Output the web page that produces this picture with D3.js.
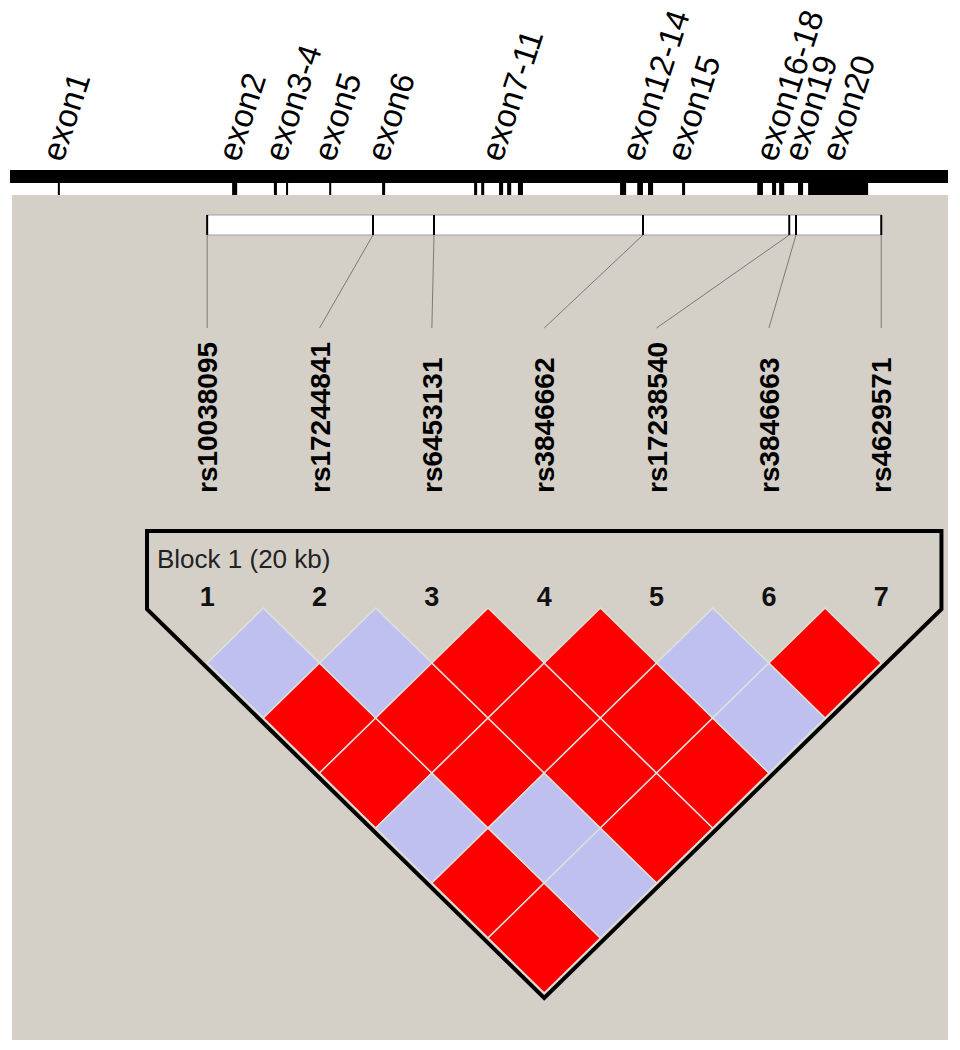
<!DOCTYPE html>
<html>
<head>
<meta charset="utf-8">
<script src="https://cdn.jsdelivr.net/npm/d3@7"></script>
<style>
    body { margin: 0; background: #fff; }
    svg { display: block; font-family: "Liberation Sans", Arial, sans-serif; }
</style>
</head>
<body>
<svg id="plot" width="960" height="1050"></svg>
<script>
const svg = d3.select("#plot");
const width = 960;
const height = 1050;

// gene length in kb, exon groups and their exon spans (kb from gene start)
const geneLength = 27.83;
const exonNames = ["exon1", "exon2", "exon3-4", "exon5", "exon6", "exon7-11",
    "exon12-14", "exon15", "exon16-18", "exon19", "exon20"];
const exonSpans = [
    [[1.42, 1.48]],
    [[6.59, 6.74]],
    [[7.83, 7.92], [8.19, 8.25]],
    [[9.47, 9.53]],
    [[11.04, 11.13]],
    [[13.77, 13.86], [13.98, 14.07], [14.51, 14.63], [14.75, 14.87], [15.07, 15.22]],
    [[18.10, 18.28], [18.61, 18.78], [18.93, 19.08]],
    [[19.94, 20.03]],
    [[22.17, 22.34], [22.61, 22.73], [22.82, 22.97]],
    [[23.38, 23.53]],
    [[23.68, 25.46]],
];

// SNPs and their positions (kb)
const snpNames = ["rs10038095", "rs17244841", "rs6453131", "rs3846662",
    "rs17238540", "rs3846663", "rs4629571"];
const snpPos = [5.85, 10.77, 12.58, 18.78, 23.12, 23.32, 25.85];

// LD classes, row i holds pairs (i, i+1), (i, i+2), ...
// "hi" = strong LD (red), "lo" = D' 1 with low LOD (lavender)
const ldRows = [
    ["lo", "hi", "hi", "lo", "hi", "hi"],
    ["lo", "hi", "hi", "lo", "lo"],
    ["hi", "hi", "hi", "hi"],
    ["hi", "hi", "hi"],
    ["lo", "lo"],
    ["hi"],
];
const blockLabel = "Block 1 (20 kb)";

const font = "'Liberation Sans', Arial, sans-serif";

// ---- SCALES ---- //

const xGene = d3.scaleLinear()
    .domain([0, geneLength])
    .range([10, 948]);

const xSnp = d3.scalePoint()
    .domain(snpNames)
    .range([xGene(snpPos[0]), xGene(snpPos[snpPos.length - 1])]);

const step = xSnp.step();
const halfW = step / 2;
const halfH = 55;
const ldY = d3.scaleLinear()
    .domain([0, snpNames.length])
    .range([608, 608 + snpNames.length * halfH]);

const color = d3.scaleOrdinal()
    .domain(["hi", "lo"])
    .range(["#ff0000", "#c0c0f0"]);

// ---- BACKGROUND ---- //

svg.append("rect")
    .attr("width", width)
    .attr("height", height)
    .attr("fill", "#ffffff");

svg.append("rect")
    .attr("x", 12)
    .attr("y", 195)
    .attr("width", 948 - 12)
    .attr("height", 1040 - 195)
    .attr("fill", "#d4d0c8");

// ---- GENE ---- //

svg.append("rect")
    .attr("x", xGene(0))
    .attr("y", 170)
    .attr("width", xGene(geneLength) - xGene(0))
    .attr("height", 13)
    .attr("fill", "#000");

const exons = exonNames.map((name, i) => ({ name: name, spans: exonSpans[i] }));

svg.selectAll(".exon-tick")
    .data(exons.flatMap(e => e.spans))
    .enter()
    .append("rect")
        .attr("class", "exon-tick")
        .attr("x", d => xGene(d[0]))
        .attr("y", 170)
        .attr("width", d => Math.max(2, xGene(d[1]) - xGene(d[0])))
        .attr("height", 25)
        .attr("fill", "#000");

svg.selectAll(".exon-label")
    .data(exons)
    .enter()
    .append("text")
        .attr("class", "exon-label")
        .attr("transform", d => {
            const cx = d3.mean(d.spans.flat().map(xGene));
            return `translate(${cx + 4}, 163) rotate(-72)`;
        })
        .attr("font-family", font)
        .attr("font-size", 33)
        .attr("fill", "#000")
        .text(d => d.name);

// ---- SNP TRACK ---- //

const snps = snpNames.map((name, i) => ({ name: name, pos: snpPos[i] }));

svg.append("rect")
    .attr("x", xGene(snpPos[0]))
    .attr("y", 215)
    .attr("width", xGene(snpPos[snpPos.length - 1]) - xGene(snpPos[0]))
    .attr("height", 20)
    .attr("fill", "#fff")
    .attr("stroke", "#a0a0a0")
    .attr("stroke-width", 1);

svg.selectAll(".snp-tick")
    .data(snps)
    .enter()
    .append("line")
        .attr("class", "snp-tick")
        .attr("x1", d => xGene(d.pos))
        .attr("x2", d => xGene(d.pos))
        .attr("y1", 215)
        .attr("y2", 235)
        .attr("stroke", "#000")
        .attr("stroke-width", 2);

svg.selectAll(".snp-link")
    .data(snps)
    .enter()
    .append("line")
        .attr("class", "snp-link")
        .attr("x1", d => xGene(d.pos))
        .attr("x2", d => xSnp(d.name))
        .attr("y1", 235)
        .attr("y2", 328)
        .attr("stroke", "#7a7a7a")
        .attr("stroke-width", 1);

svg.selectAll(".snp-label")
    .data(snps)
    .enter()
    .append("text")
        .attr("class", "snp-label")
        .attr("transform", d => `translate(${xSnp(d.name) + 10}, 493) rotate(-90)`)
        .attr("font-family", font)
        .attr("font-size", 28)
        .attr("font-weight", "bold")
        .attr("fill", "#000")
        .text(d => d.name);

// ---- LD BLOCK ---- //

const cells = ldRows.flatMap((row, i) => row.map((c, k) => ({
    i: i,
    j: i + k + 1,
    cls: c,
})));

svg.selectAll(".ld-cell")
    .data(cells)
    .enter()
    .append("path")
        .attr("class", "ld-cell")
        .attr("d", d => {
            const cx = (xSnp(snpNames[d.i]) + xSnp(snpNames[d.j])) / 2;
            const k = d.j - d.i;
            const cy = ldY(k);
            return `M${cx},${ldY(k - 1)}L${cx + halfW},${cy}L${cx},${ldY(k + 1)}L${cx - halfW},${cy}Z`;
        })
        .attr("fill", d => color(d.cls))
        .attr("stroke", "#dce2da")
        .attr("stroke-width", 1.5);

// block outline
const xFirst = xSnp(snpNames[0]);
const xLast = xSnp(snpNames[snpNames.length - 1]);
const xMid = (xFirst + xLast) / 2;
const pad = 4;
const bottomY = ldY(snpNames.length) + pad + 1;
const slope = halfH / halfW;
const leftX = xFirst - halfW - pad;
const rightX = xLast + halfW + pad;
const cornerLeftY = bottomY - (xMid - leftX) * slope;
const cornerRightY = bottomY - (rightX - xMid) * slope;

svg.append("path")
    .attr("d", `M${leftX},531L${leftX},${cornerLeftY}L${xMid},${bottomY}L${rightX},${cornerRightY}L${rightX},531Z`)
    .attr("fill", "none")
    .attr("stroke", "#000")
    .attr("stroke-width", 4)
    .attr("stroke-linejoin", "miter");

svg.append("text")
    .attr("x", leftX + 10)
    .attr("y", 568)
    .attr("font-family", font)
    .attr("font-size", 26)
    .attr("fill", "#222")
    .text(blockLabel);

svg.selectAll(".snp-num")
    .data(snpNames)
    .enter()
    .append("text")
        .attr("class", "snp-num")
        .attr("x", d => xSnp(d))
        .attr("y", 606)
        .attr("text-anchor", "middle")
        .attr("font-family", font)
        .attr("font-size", 27)
        .attr("font-weight", "bold")
        .attr("fill", "#111")
        .text((d, i) => i + 1);
</script>
</body>
</html>
